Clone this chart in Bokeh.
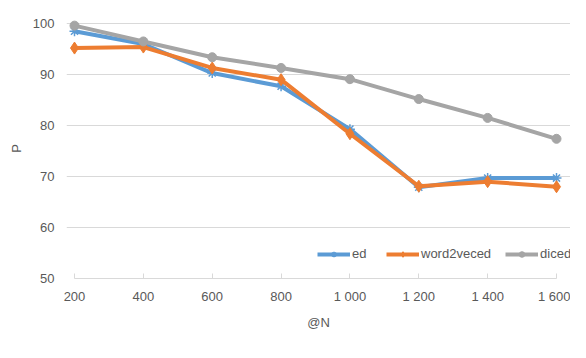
from bokeh.plotting import figure
from bokeh.models import Range1d, FixedTicker, Legend, LegendItem
from bokeh.embed import file_html
from bokeh.resources import INLINE

N = [200, 400, 600, 800, 1000, 1200, 1400, 1600]
tick_labels = ["200", "400", "600", "800", "1 000", "1 200", "1 400", "1 600"]
ed = [98.5, 96.0, 90.3, 87.7, 79.3, 67.9, 69.7, 69.7]
word2veced = [95.2, 95.4, 91.3, 89.0, 78.4, 68.1, 69.0, 68.0]
diced = [99.6, 96.5, 93.4, 91.3, 89.1, 85.2, 81.5, 77.4]
y_ticks = [50, 60, 70, 80, 90, 100]

FONT = "Liberation Sans"
TXT = "#595959"
GRID = "#d9d9d9"

# frame extends a little beyond first/last category so markers/legend are not clipped
span = N[-1] - N[0]
upp = span / 482
pad_l = upp * 8
pad_r = upp * 14

p = figure(width=570, height=342, output_backend="svg", toolbar_location=None,
           x_range=Range1d(N[0] - pad_l, N[-1] + pad_r), y_range=Range1d(50, 101),
           min_border_left=66, min_border_right=0, min_border_top=18, min_border_bottom=64)
p.outline_line_color = None
p.background_fill_color = "white"
p.border_fill_color = "white"

p.xgrid.visible = False
p.ygrid.ticker = FixedTicker(ticks=y_ticks)
p.ygrid.grid_line_color = GRID
p.ygrid.bounds = (N[0], N[-1])

xa = p.xaxis[0]
xa.ticker = FixedTicker(ticks=N)
xa.major_label_overrides = {n: t for n, t in zip(N, tick_labels)}
xa.bounds = (N[0], N[-1])
xa.axis_line_color = GRID
xa.major_tick_line_color = GRID
xa.major_tick_in = 5
xa.major_tick_out = 0
xa.minor_tick_line_color = None
xa.major_label_standoff = 10
xa.axis_label = "@N"
xa.axis_label_standoff = 8

ya = p.yaxis[0]
ya.ticker = FixedTicker(ticks=y_ticks)
ya.axis_line_color = None
ya.major_tick_line_color = None
ya.minor_tick_line_color = None
ya.major_label_standoff = 6
ya.axis_label = "P"
ya.axis_label_standoff = 6

for ax in (xa, ya):
    ax.major_label_text_font = FONT
    ax.major_label_text_font_size = "13px"
    ax.major_label_text_color = TXT
    ax.axis_label_text_font = FONT
    ax.axis_label_text_font_size = "13px"
    ax.axis_label_text_color = TXT
    ax.axis_label_text_font_style = "normal"

series = [
    ("ed", ed, "#5B9BD5", "asterisk"),
    ("word2veced", word2veced, "#ED7D31", "diamond"),
    ("diced", diced, "#A5A5A5", "circle"),
]
items = []
for name, vals, col, mk in series:
    lr = p.line(N, vals, line_color=col, line_width=4)
    if mk == "asterisk":
        sr = p.scatter(N, vals, marker=mk, size=10, line_color=col, line_width=1.5)
    elif mk == "diamond":
        sr = p.scatter(N, vals, marker=mk, size=12, fill_color=col, line_color=col)
    else:
        sr = p.scatter(N, vals, marker=mk, size=9, fill_color=col, line_color=col)
    items.append(LegendItem(label=name, renderers=[lr, sr]))

legend = Legend(items=items, orientation="horizontal", location=(251, 17))
legend.background_fill_alpha = 0
legend.border_line_alpha = 0
legend.padding = 0
legend.margin = 0
legend.spacing = 14
legend.glyph_width = 33
legend.glyph_height = 14
legend.label_standoff = 2
legend.label_height = 14
legend.label_text_font = FONT
legend.label_text_font_size = "13px"
legend.label_text_color = TXT
p.add_layout(legend, "center")

open("out.html", "w").write(file_html(p, INLINE))
